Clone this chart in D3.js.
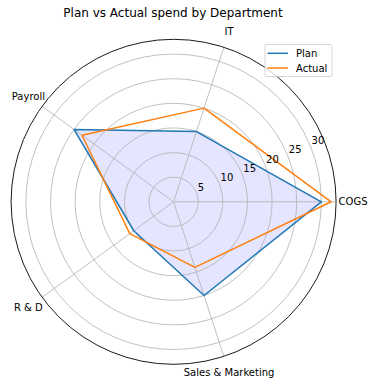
<!DOCTYPE html>
<html>
<head>
<meta charset="utf-8">
<script src="https://cdn.jsdelivr.net/npm/d3@7"></script>
<style>
  body { margin: 0; background: #fff; }
  text { font-family: "DejaVu Sans", sans-serif; fill: #000; }
</style>
</head>
<body>
<div id="chart"></div>
<script>
// 数据
const categories = ["COGS", "IT", "Payroll", "R & D", "Sales & Marketing"];
const plan = [30, 15, 25, 10, 20];
const actual = [32, 20, 23, 11, 14];
const rTicks = [5, 10, 15, 20, 25, 30];

const width = 374, height = 385;
const cx = 173.6, cy = 201.8, R = 162.5;

const svg = d3.select("#chart").append("svg")
    .attr("width", width)
    .attr("height", height);

const g = svg.append("g").attr("transform", `translate(${cx},${cy})`);

const r = d3.scaleLinear().domain([0, 33]).range([0, R]);
// 角度：从正东逆时针，每个类别 72 度
const theta = d3.scaleLinear().domain([0, categories.length]).range([0, 2 * Math.PI]);
// d3 的径向角度是从正北顺时针
const toD3 = t => Math.PI / 2 - t;
const px = (v, t) => r(v) * Math.cos(t);
const py = (v, t) => -r(v) * Math.sin(t);

const radial = d3.lineRadial()
    .angle((d, i) => toD3(theta(i)))
    .radius(d => r(d))
    .curve(d3.curveLinearClosed);

// Plan 的填充区域
g.append("path")
    .attr("d", radial(plan))
    .attr("fill", "rgba(0,0,255,0.1)")
    .attr("stroke", "none");

// 同心圆网格
g.selectAll(".ring")
    .data(rTicks)
    .enter().append("circle")
    .attr("class", "ring")
    .attr("r", d => r(d))
    .attr("fill", "none")
    .attr("stroke", "#b0b0b0")
    .attr("stroke-width", 0.8);

// 径向线
g.selectAll(".spoke")
    .data(categories)
    .enter().append("line")
    .attr("class", "spoke")
    .attr("x1", 0).attr("y1", 0)
    .attr("x2", (d, i) => px(33, theta(i)))
    .attr("y2", (d, i) => py(33, theta(i)))
    .attr("stroke", "#b0b0b0")
    .attr("stroke-width", 0.8);

// 外圈
g.append("circle")
    .attr("r", r(33))
    .attr("fill", "none")
    .attr("stroke", "#000")
    .attr("stroke-width", 0.9);

// 两条折线
g.append("path")
    .attr("d", radial(plan))
    .attr("fill", "none")
    .attr("stroke", "#1f77b4")
    .attr("stroke-width", 1.5)
    .attr("stroke-linejoin", "round");

g.append("path")
    .attr("d", radial(actual))
    .attr("fill", "none")
    .attr("stroke", "#ff7f0e")
    .attr("stroke-width", 1.5)
    .attr("stroke-linejoin", "round");

// 半径刻度标签（22.5 度方向）
const labAng = 22.5 * Math.PI / 180;
g.selectAll(".rlabel")
    .data(rTicks)
    .enter().append("text")
    .attr("class", "rlabel")
    .attr("x", d => px(d, labAng) + 1.5)
    .attr("y", d => py(d, labAng) - 1.5)
    .attr("text-anchor", "start")
    .style("font-size", "10px")
    .text(d => d);

// 类别标签
g.selectAll(".clabel")
    .data(categories)
    .enter().append("text")
    .attr("class", "clabel")
    .attr("x", (d, i) => (R + 17) * Math.cos(theta(i)))
    .attr("y", (d, i) => -(R + 17) * Math.sin(theta(i)))
    .attr("text-anchor", "middle")
    .attr("dominant-baseline", "central")
    .style("font-size", "10px")
    .text(d => d);

// 标题
svg.append("text")
    .attr("x", 173)
    .attr("y", 16.5)
    .attr("text-anchor", "middle")
    .style("font-size", "12px")
    .text("Plan vs Actual spend by Department");

// 图例
const legend = svg.append("g").attr("transform", "translate(265,44.5)");
legend.append("rect")
    .attr("width", 67).attr("height", 32)
    .attr("rx", 2)
    .attr("fill", "#fff")
    .attr("fill-opacity", 0.8)
    .attr("stroke", "#cccccc")
    .attr("stroke-width", 0.8);

const items = [{name: "Plan", color: "#1f77b4"}, {name: "Actual", color: "#ff7f0e"}];
items.forEach((d, i) => {
    const y = 8.8 + i * 14.7;
    legend.append("line")
        .attr("x1", 2.5).attr("x2", 23)
        .attr("y1", y).attr("y2", y)
        .attr("stroke", d.color)
        .attr("stroke-width", 1.5);
    legend.append("text")
        .attr("x", 31)
        .attr("y", y)
        .attr("dominant-baseline", "central")
        .style("font-size", "10px")
        .text(d.name);
});
</script>
</body>
</html>
